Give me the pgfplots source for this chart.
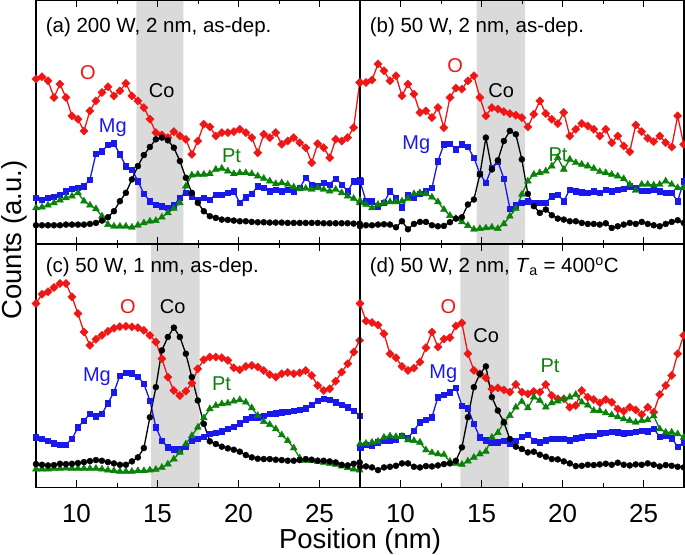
\documentclass[border=0pt]{standalone}
\usepackage{pgfplots}
\usepackage{pgfplotstable}
\usepackage{fontspec}
\setmainfont{Liberation Sans}
\pgfplotsset{compat=1.18}
\usepgfplotslibrary{groupplots}
\usetikzlibrary{calc}
\definecolor{cR}{RGB}{240,22,22}
\definecolor{cB}{RGB}{25,25,235}
\definecolor{cG}{RGB}{10,130,10}
\definecolor{cS}{RGB}{218,218,218}
\newcommand{\tickfont}{\fontsize{26}{30}\selectfont}
\newcommand{\labfont}{\fontsize{27.5}{32}\selectfont}
\newcommand{\ttlfont}{\fontsize{20.5}{24}\selectfont}
\newcommand{\elfont}{\fontsize{20}{24}\selectfont}

\pgfplotstableread{
x O Mg Pt Co
7.50 493 138 108 56
7.87 500 133 110 56
8.24 488 138 116 56
8.61 438 141 123 56
8.98 478 148 131 56
9.35 438 158 138 58
9.72 383 166 143 58
10.09 373 168 153 58
10.46 338 173 128 58
10.83 398 193 116 60
11.20 428 270 105 63
11.57 453 278 83 70
11.94 470 296 58 80
12.31 443 301 53 98
12.68 458 268 53 128
13.05 480 233 53 153
13.42 443 223 50 193
13.79 428 188 56 233
14.16 408 150 63 266
14.53 373 128 68 290
14.90 333 118 70 313
15.27 326 113 80 318
15.64 318 108 93 310
16.01 336 116 106 288
16.38 323 138 123 248
16.75 313 153 173 198
17.12 268 143 206 153
17.49 308 133 208 123
17.86 358 138 208 98
18.23 350 133 210 83
18.60 323 148 223 78
18.97 333 148 226 73
19.34 333 153 218 72
19.71 336 158 210 70
20.08 343 123 213 68
20.45 333 140 213 68
20.82 318 150 210 66
21.19 273 173 203 65
21.56 328 168 196 65
21.93 318 158 188 64
22.30 333 162 180 64
22.67 298 158 183 64
23.04 308 163 178 63
23.41 318 158 170 63
23.78 303 168 165 63
24.15 288 198 166 63
24.52 243 178 163 63
24.89 300 173 168 63
25.26 288 183 163 62
25.63 258 178 158 62
26.00 313 196 163 62
26.37 308 178 153 62
26.74 318 158 143 62
27.11 348 188 136 61
27.48 483 193 123 61
}\tA

\pgfplotstableread{
x O Mg Pt Co
7.40 348 198 128 56
7.50 483 188 130 53
7.87 483 128 118 56
8.24 490 128 108 56
8.61 538 113 118 58
8.98 518 123 123 59
9.35 488 158 126 58
9.72 503 138 126 50
10.09 443 110 128 68
10.46 478 146 136 44
10.83 448 138 150 60
11.20 393 150 153 66
11.57 398 158 150 66
11.94 378 168 140 56
12.31 408 248 126 53
12.68 348 298 103 54
13.05 438 300 85 65
13.42 466 283 76 76
13.79 463 298 66 80
14.16 488 290 55 118
14.53 503 258 44 133
14.90 438 210 46 208
15.27 383 183 48 318
15.64 408 228 50 223
16.01 403 246 46 250
16.38 396 196 60 308
16.75 390 106 83 338
17.12 385 116 106 328
17.49 378 123 148 253
17.86 350 128 188 150
18.23 388 123 208 113
18.60 428 123 213 93
18.97 390 123 218 103
19.34 373 143 233 86
19.71 360 148 258 76
20.08 393 128 223 73
20.45 323 163 253 68
20.82 343 158 243 68
21.19 360 155 238 63
21.56 353 153 233 60
21.93 343 158 226 60
22.30 323 153 216 58
22.67 343 163 213 62
23.04 303 158 208 48
23.41 323 163 203 53
23.78 293 166 195 58
24.15 276 173 178 63
24.52 356 168 160 60
24.89 336 160 178 66
25.26 316 160 178 60
25.63 306 163 176 56
26.00 323 158 178 53
26.37 303 153 188 60
26.74 290 153 178 66
27.11 383 128 168 71
27.48 298 188 168 63
}\tB

\pgfplotstableread{
x O Mg Pt Co
7.50 550 150 55 70
7.87 578 145 55 68
8.24 585 140 55 66
8.61 598 133 57 67
8.98 610 128 57 71
9.35 610 128 58 70
9.72 570 145 57 71
10.09 520 180 57 73
10.46 465 200 57 76
10.83 425 220 57 79
11.20 443 213 57 82
11.57 455 220 55 80
11.94 467 252 52 76
12.31 476 285 50 72
12.68 481 335 48 68
13.05 482 344 48 68
13.42 480 342 48 78
13.79 478 332 50 90
14.16 470 310 50 118
14.53 455 260 52 210
14.90 435 180 54 300
15.27 385 140 60 410
15.64 330 120 70 450
16.01 290 115 85 478
16.38 275 115 105 450
16.75 288 122 130 400
17.12 312 140 155 330
17.49 355 146 180 260
17.86 382 152 208 190
18.23 390 160 235 138
18.60 390 164 245 130
18.97 388 168 250 122
19.34 380 175 252 117
19.71 358 182 258 113
20.08 352 192 262 107
20.45 362 204 255 97
20.82 365 210 238 90
21.19 360 210 215 86
21.56 350 215 197 85
21.93 338 220 188 85
22.30 330 222 175 83
22.67 340 225 157 82
23.04 344 226 140 80
23.41 340 230 118 80
23.78 343 232 88 82
24.15 350 237 80 85
24.52 335 248 80 83
24.89 305 260 78 80
25.26 290 265 75 80
25.63 295 262 72 78
26.00 318 255 69 75
26.37 345 248 64 68
26.74 370 240 59 66
27.11 405 230 55 71
27.48 440 215 52 75
}\tC

\pgfplotstableread{
x O Mg Pt Co
7.40 395 220 55 68
7.50 550 120 130 62
7.87 498 128 132 63
8.24 493 125 135 60
8.61 486 135 138 52
8.98 460 140 150 60
9.35 400 140 154 62
9.72 388 143 152 65
10.09 362 155 153 72
10.46 350 148 142 72
10.83 357 170 140 62
11.20 375 195 135 60
11.57 418 202 112 64
11.94 465 210 104 63
12.31 420 270 100 66
12.68 444 278 98 70
13.05 448 285 78 72
13.42 483 298 72 80
13.79 492 245 69 120
14.16 400 237 79 210
14.53 350 190 90 300
14.90 340 150 100 340
15.27 328 142 108 362
15.64 295 135 150 270
16.01 298 135 164 230
16.38 292 140 195 195
16.75 285 133 215 145
17.12 308 140 240 122
17.49 285 152 257 115
17.86 280 158 238 105
18.23 287 140 270 107
18.60 285 136 260 98
18.97 308 142 240 92
19.34 275 145 253 85
19.71 265 146 258 84
20.08 265 145 265 78
20.45 240 142 270 72
20.82 245 147 278 64
21.19 290 150 255 65
21.56 270 154 246 68
21.93 263 155 230 67
22.30 253 162 229 69
22.67 263 163 223 71
23.04 255 166 217 68
23.41 235 165 211 74
23.78 228 162 205 68
24.15 240 163 200 66
24.52 232 166 195 69
24.89 218 169 200 68
25.26 240 168 202 72
25.63 225 175 214 68
26.00 278 152 175 63
26.37 305 155 165 67
26.74 335 147 165 65
27.11 400 122 160 62
27.48 455 135 150 60
}\tD

\pgfplotsset{
  Ostyle/.style={color=cR, line width=1.3pt, mark=square*, mark size=2.9pt, mark options={rotate=45, solid, line width=0.4pt}},
  Mgstyle/.style={color=cB, line width=1.3pt, mark=square*, mark size=2.7pt, mark options={solid, line width=0.4pt}},
  Ptstyle/.style={color=cG, line width=1.3pt, mark=triangle*, mark size=4.0pt, mark options={solid, line width=0.4pt}},
  Costyle/.style={color=black, line width=1.3pt, mark=*, mark size=3.0pt, mark options={solid, line width=0.4pt}},
  band/.style={draw=none, fill=cS, forget plot},
}

\begin{document}
\begin{tikzpicture}
\begin{groupplot}[
  group style={group size=2 by 2, horizontal sep=0pt, vertical sep=0pt, xticklabels at=edge bottom},
  width=324pt, height=243.5pt, scale only axis,
  xmin=7.5, xmax=27.5, ymin=0, ymax=728,
  xtick={10,15,20,25}, minor x tick num=1,
  ytick=\empty,
  axis on top,
  axis line style={line width=1.2pt},
  major tick length=7pt, minor tick length=4pt,
  every tick/.style={black, line width=1pt},
  xticklabel style={font=\tickfont, anchor=base, yshift=-35.5pt},
  /pgf/number format/assume math mode=true,
]
% (a)
\nextgroupplot
\addplot[band] coordinates {(13.7,0) (13.7,728) (16.6,728) (16.6,0)} \closedcycle;
\addplot[Ostyle] table[x=x,y=O]{\tA};
\addplot[Mgstyle] table[x=x,y=Mg]{\tA};
\addplot[Ptstyle] table[x=x,y=Pt]{\tA};
\addplot[Costyle] table[x=x,y=Co]{\tA};
\node[anchor=base west, inner sep=0pt, font=\ttlfont] at (rel axis cs:0.0296,0.867) {(a) 200 W, 2 nm, as-dep.};
\node[font=\elfont, text=cR, inner sep=0pt] at (axis cs:10.7,512) {O};
\node[font=\elfont, text=black, inner sep=0pt] at (axis cs:15.26,458) {Co};
\node[font=\elfont, text=cB, inner sep=0pt] at (axis cs:12.24,347) {Mg};
\node[font=\elfont, text=cG, inner sep=0pt] at (axis cs:19.57,263) {Pt};
% (b)
\nextgroupplot
\addplot[band] coordinates {(14.7,0) (14.7,728) (17.7,728) (17.7,0)} \closedcycle;
\addplot[Ostyle] table[x=x,y=O]{\tB};
\addplot[Mgstyle] table[x=x,y=Mg]{\tB};
\addplot[Ptstyle] table[x=x,y=Pt]{\tB};
\addplot[Costyle] table[x=x,y=Co]{\tB};
\node[anchor=base west, inner sep=0pt, font=\ttlfont] at (rel axis cs:0.0296,0.867) {(b) 50 W, 2 nm, as-dep.};
\node[font=\elfont, text=cR, inner sep=0pt] at (axis cs:13.38,533) {O};
\node[font=\elfont, text=black, inner sep=0pt] at (axis cs:16.21,458) {Co};
\node[font=\elfont, text=cB, inner sep=0pt] at (axis cs:10.98,298) {Mg};
\node[font=\elfont, text=cG, inner sep=0pt] at (axis cs:19.72,268) {Pt};
% (c)
\nextgroupplot
\addplot[band] coordinates {(14.6,0) (14.6,728) (17.6,728) (17.6,0)} \closedcycle;
\addplot[Ostyle] table[x=x,y=O]{\tC};
\addplot[Mgstyle] table[x=x,y=Mg]{\tC};
\addplot[Ptstyle] table[x=x,y=Pt]{\tC};
\addplot[Costyle] table[x=x,y=Co]{\tC};
\node[anchor=base west, inner sep=0pt, font=\ttlfont] at (rel axis cs:0.0296,0.882) {(c) 50 W, 1 nm, as-dep.};
\node[font=\elfont, text=cR, inner sep=0pt] at (axis cs:13.17,540) {O};
\node[font=\elfont, text=black, inner sep=0pt] at (axis cs:15.94,540) {Co};
\node[font=\elfont, text=cB, inner sep=0pt] at (axis cs:11.26,330) {Mg};
\node[font=\elfont, text=cG, inner sep=0pt] at (axis cs:18.95,310) {Pt};
% (d)
\nextgroupplot
\addplot[band] coordinates {(13.7,0) (13.7,728) (16.7,728) (16.7,0)} \closedcycle;
\addplot[Ostyle] table[x=x,y=O]{\tD};
\addplot[Mgstyle] table[x=x,y=Mg]{\tD};
\addplot[Ptstyle] table[x=x,y=Pt]{\tD};
\addplot[Costyle] table[x=x,y=Co]{\tD};
\node[anchor=base west, inner sep=0pt, font=\ttlfont] at (rel axis cs:0.0296,0.882) {(d) 50 W, 2 nm, \textit{T}\textsubscript{a} = 400\textsuperscript{o}C};
\node[font=\elfont, text=cR, inner sep=0pt] at (axis cs:12.95,540) {O};
\node[font=\elfont, text=black, inner sep=0pt] at (axis cs:15.29,455) {Co};
\node[font=\elfont, text=cB, inner sep=0pt] at (axis cs:12.64,340) {Mg};
\node[font=\elfont, text=cG, inner sep=0pt] at (axis cs:19.23,365) {Pt};
\end{groupplot}
\node[rotate=90, anchor=base, font=\labfont] at ($(group c1r1.south west)+(-14.3pt,4pt)$) {Counts (a.u.)};
\node[anchor=base, font=\labfont] at ($(group c1r2.south east)+(0pt,-61pt)$) {Position (nm)};
\pgfresetboundingbox
\path ($(group c1r2.south west)+(-36pt,-67pt)$) rectangle ($(group c2r1.north east)+(1pt,0.5pt)$);
\end{tikzpicture}
\end{document}
